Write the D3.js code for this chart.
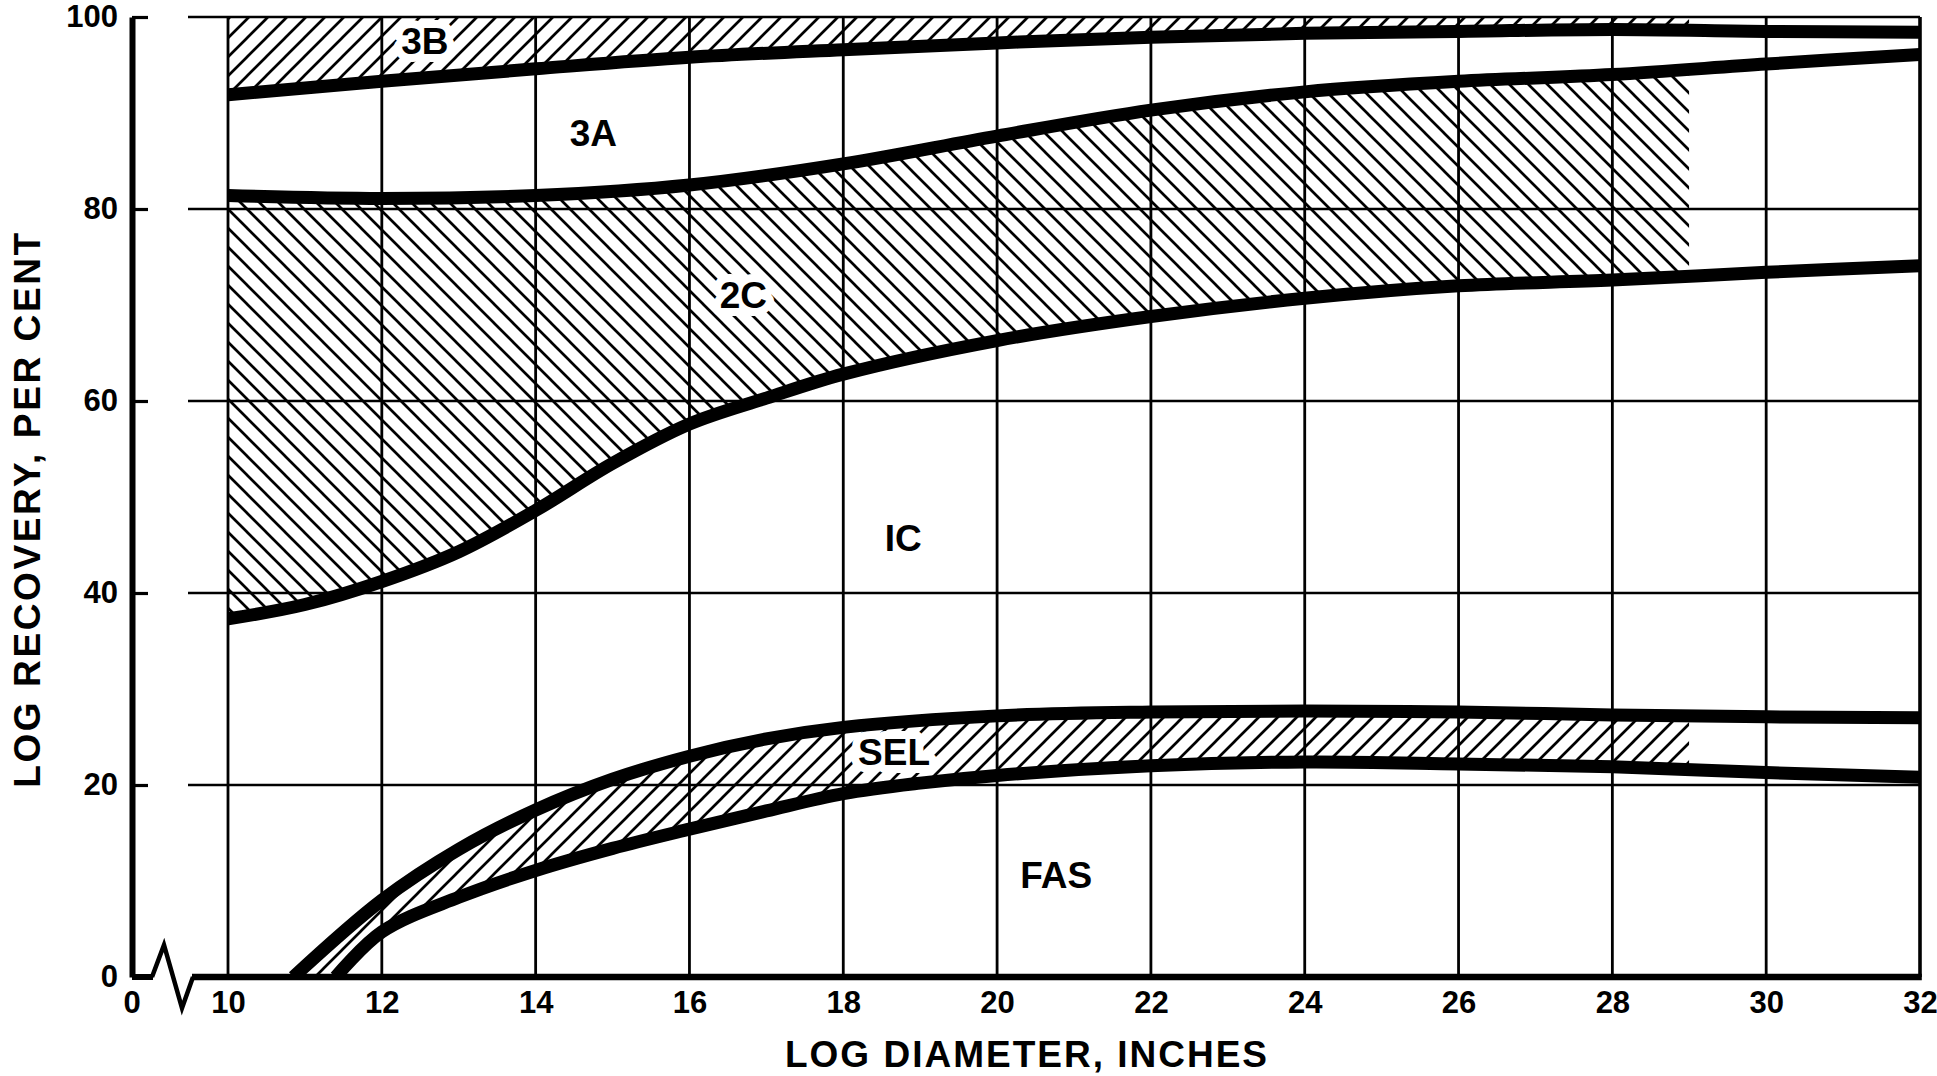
<!DOCTYPE html>
<html><head><meta charset="utf-8">
<script src="https://cdn.jsdelivr.net/npm/d3@7"></script>
<style>
body{margin:0;background:#fff}
svg{display:block}
text{font-family:"Liberation Sans",Arial,sans-serif;font-weight:bold;fill:#000}
</style>
</head><body>
<svg id="c" width="1937" height="1076"></svg>
<script>
// ---------- data ----------
const xTicks = [10,12,14,16,18,20,22,24,26,28,30,32];
const yTicks = [0,20,40,60,80,100];
const curve3B3A = [[10,91.9],[12,93.3],[14,94.6],[16,95.8],[18,96.6],[20,97.3],[22,97.9],[24,98.3],[26,98.5],[28,98.7],[30,98.5],[32,98.4]];
const curve3A2C = [[10,81.4],[12,81.1],[14,81.4],[16,82.5],[18,84.7],[20,87.6],[22,90.3],[24,92.2],[26,93.3],[28,94.0],[30,95.1],[32,96.1]];
const curve2C1C = [[10,37.3],[11,38.8],[12,41.2],[13,44.3],[14,48.6],[15,53.5],[16,57.6],[17,60.3],[18,62.8],[20,66.3],[22,68.8],[24,70.7],[26,72.0],[28,72.6],[30,73.4],[32,74.1]];
const curveSELtop = [[10.85,0],[12,8.0],[13,13.3],[14,17.4],[15,20.6],[16,23.0],[17,24.8],[18,26.0],[20,27.2],[22,27.6],[24,27.7],[26,27.6],[28,27.3],[30,27.1],[32,27.0]];
const curveSELbottom = [[11.4,0],[12,4.7],[13,8.3],[14,11.1],[15,13.4],[16,15.4],[17,17.3],[18,19.1],[19,20.2],[20,21.0],[22,22.0],[24,22.4],[26,22.2],[28,21.9],[30,21.3],[32,20.8]];
const hatchEnd = 29;
const regionLabels = ["3B","3A","2C","IC","SEL","FAS"];
const regionLabelX = [12.56,14.75,16.7,18.78,18.66,20.77];
const regionLabelY = [97.5,88.0,71.1,45.8,23.5,10.7];
const regionHalo = [true,false,true,false,true,false];
const xTitle = "LOG DIAMETER, INCHES";
const yTitle = "LOG RECOVERY, PER CENT";

// ---------- setup ----------
const W = 1937, H = 1076;
const svg = d3.select("#c");
svg.append("rect").attr("width",W).attr("height",H).attr("fill","#fff");
const x = d3.scaleLinear().domain([10,32]).range([228,1920]);
const y = d3.scaleLinear().domain([0,100]).range([977,17]);
const axisX = x(10) - 96;
const defs = svg.append("defs");

function hatch(id, dir){
  const p = defs.append("pattern").attr("id",id).attr("patternUnits","userSpaceOnUse")
    .attr("width",19).attr("height",19);
  const d = dir > 0
    ? "M-4.75,4.75L4.75,-4.75M0,19L19,0M14.25,23.75L23.75,14.25"
    : "M-4.75,14.25L4.75,23.75M0,0L19,19M14.25,-4.75L23.75,4.75";
  p.append("path").attr("d",d).attr("stroke","#000").attr("stroke-width",2.7).attr("fill","none");
}
hatch("hFwd", 1);
hatch("hBack", -1);

const curveType = d3.curveCatmullRom.alpha(0.5);
const areaBelow = d3.area().x(d=>x(d[0])).y0(y(0)).y1(d=>y(d[1])).curve(curveType);
const areaAbove = d3.area().x(d=>x(d[0])).y0(y(100)).y1(d=>y(d[1])).curve(curveType);
const line = d3.line().x(d=>x(d[0])).y(d=>y(d[1])).curve(curveType);

function makeMask(id, whiteD, blackD){
  const m = defs.append("mask").attr("id",id).attr("maskUnits","userSpaceOnUse")
    .attr("x",0).attr("y",0).attr("width",W).attr("height",H);
  m.append("path").attr("d",whiteD).attr("fill","#fff");
  if (blackD) m.append("path").attr("d",blackD).attr("fill","#000");
}
makeMask("m3B", areaAbove(curve3B3A), null);
makeMask("m2C", areaBelow(curve3A2C), areaBelow(curve2C1C));
makeMask("mSEL", areaBelow(curveSELtop), areaBelow(curveSELbottom));

defs.append("clipPath").attr("id","hatchClip").append("rect")
  .attr("x",x(10)).attr("y",y(100)).attr("width",x(hatchEnd)-x(10)).attr("height",y(0)-y(100));
defs.append("clipPath").attr("id","plotClip").append("rect")
  .attr("x",x(10)).attr("y",y(100)-20).attr("width",x(32)-x(10)).attr("height",y(0)-y(100)+20);

// ---------- hatched bands ----------
const hg = svg.append("g").attr("clip-path","url(#hatchClip)");
[["m3B","hFwd"],["m2C","hBack"],["mSEL","hFwd"]].forEach(([m,p])=>{
  hg.append("rect").attr("x",x(10)).attr("y",y(100)).attr("width",x(hatchEnd)-x(10))
    .attr("height",y(0)-y(100)).attr("fill",`url(#${p})`).attr("mask",`url(#${m})`);
});

// ---------- label halos ----------
const lbl = regionLabels.map((t,i)=>({t, x:regionLabelX[i], y:regionLabelY[i], halo:regionHalo[i]}));
svg.append("g").selectAll("text").data(lbl.filter(d=>d.halo)).join("text")
  .attr("x",d=>x(d.x)).attr("y",d=>y(d.y)).attr("dy","0.36em")
  .attr("text-anchor","middle").attr("font-size",37)
  .style("fill","#fff").attr("stroke","#fff").attr("stroke-width",16).attr("stroke-linejoin","round")
  .text(d=>d.t);

// ---------- grid ----------
const grid = svg.append("g").attr("stroke","#000").attr("fill","none");
grid.selectAll("line.v").data(xTicks).join("line").attr("class","v")
  .attr("x1",d=>x(d)).attr("x2",d=>x(d)).attr("y1",y(100)).attr("y2",y(0))
  .attr("stroke-width",d=>d===32?3.6:2.8);
grid.selectAll("line.h").data(yTicks.filter(v=>v>0)).join("line").attr("class","h")
  .attr("x1",x(10)-40).attr("x2",x(32)).attr("y1",d=>y(d)).attr("y2",d=>y(d))
  .attr("stroke-width",2.6);

// ---------- axes ----------
const yAxis = d3.axisLeft(y).tickValues(yTicks).tickSizeInner(-16).tickSizeOuter(0).tickPadding(14);
const gy = svg.append("g").attr("transform",`translate(${axisX},0)`).call(yAxis);
gy.attr("font-size",31).attr("font-family",null);
gy.select(".domain").attr("stroke-width",6);
gy.selectAll(".tick line").attr("stroke-width",3.2);

const xAxis = d3.axisBottom(x).tickValues(xTicks).tickSize(0).tickPadding(14);
const gx = svg.append("g").attr("transform",`translate(0,${y(0)})`).call(xAxis);
gx.attr("font-size",31).attr("font-family",null);
gx.select(".domain").remove();
gx.append("text").attr("x",axisX).attr("y",14).attr("dy","0.71em").attr("text-anchor","middle").text("0");

// baseline with axis break
const y0p = y(0);
svg.append("path")
  .attr("d",`M${axisX},${y0p}H${axisX+21}`).attr("stroke","#000").attr("stroke-width",6).attr("fill","none");
svg.append("path")
  .attr("d",`M${axisX+20},${y0p}L${axisX+32},${y0p-32}L${axisX+50},${y0p+31}L${axisX+61},${y0p}`)
  .attr("stroke","#000").attr("stroke-width",4.5).attr("fill","none").attr("stroke-linejoin","miter");
svg.append("path")
  .attr("d",`M${axisX+60},${y0p}H${x(32)+1.8}`).attr("stroke","#000").attr("stroke-width",6.5).attr("fill","none");

// ---------- boundary curves ----------
const cg = svg.append("g").attr("clip-path","url(#plotClip)");
[curve3B3A, curve3A2C, curve2C1C, curveSELtop, curveSELbottom].forEach(c=>{
  cg.append("path").attr("d",line(c)).attr("fill","none").attr("stroke","#000")
    .attr("stroke-width",13).attr("stroke-linejoin","round");
});

// ---------- region labels ----------
svg.append("g").selectAll("text").data(lbl).join("text")
  .attr("x",d=>x(d.x)).attr("y",d=>y(d.y)).attr("dy","0.36em")
  .attr("text-anchor","middle").attr("font-size",37).text(d=>d.t);

// ---------- titles ----------
svg.append("text").attr("x",1027).attr("y",1054).attr("dy","0.36em").attr("text-anchor","middle")
  .attr("font-size",37).attr("letter-spacing",2).text(xTitle);
svg.append("text").attr("transform","translate(27,509) rotate(-90)").attr("dy","0.36em")
  .attr("text-anchor","middle").attr("font-size",37).attr("letter-spacing",2.6).text(yTitle);
</script>
</body></html>
